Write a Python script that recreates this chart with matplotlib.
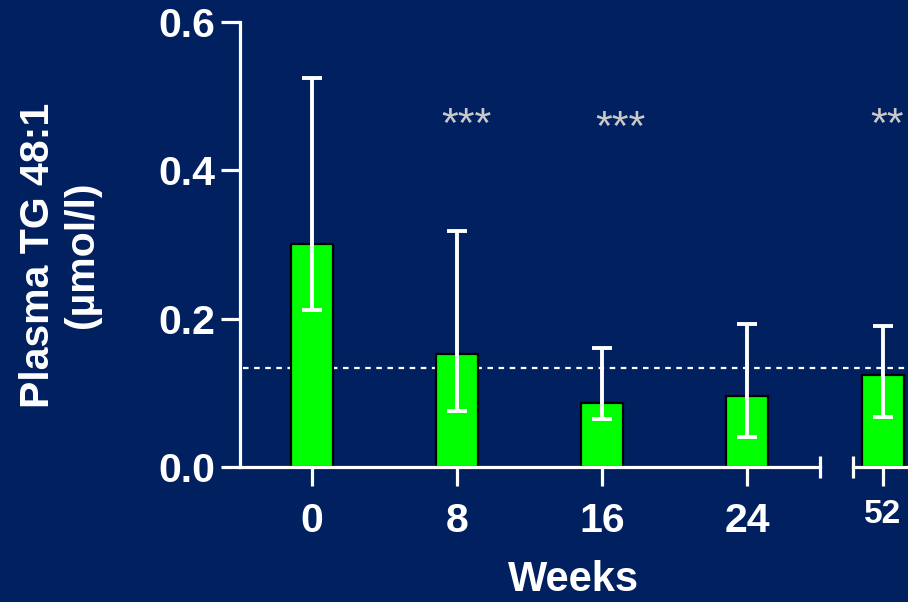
import matplotlib
matplotlib.use("Agg")
import matplotlib.pyplot as plt

plt.rcParams['font.family'] = ['Liberation Sans', 'DejaVu Sans']

# plasma TG 48:1 (umol/l) by study week
weeks = [0, 8, 16, 24, 52]
means = [0.30, 0.152, 0.086, 0.096, 0.124]
err_low = [0.212, 0.076, 0.065, 0.040, 0.067]
err_high = [0.524, 0.318, 0.160, 0.193, 0.190]
baseline_ref = 0.133
stars = ['***', '***', '', '', '**']
star_x = [8.5, 17.0, None, None, 52.2]
star_y = [0.460, 0.456, None, None, 0.460]

bg = '#002060'
fig = plt.figure(figsize=(9.08, 6.02), dpi=100, facecolor=bg)

ax1 = fig.add_axes([240 / 908, 1 - 467 / 602, 580 / 908, 445 / 602])
ax2 = fig.add_axes([853 / 908, 1 - 467 / 602, 55 / 908, 445 / 602])

bar_w = 2.32
for ax in (ax1, ax2):
    ax.patch.set_visible(False)
    ax.set_ylim(0, 0.6)
    for s in ('top', 'right'):
        ax.spines[s].set_visible(False)
    for s in ('left', 'bottom'):
        ax.spines[s].set_color('white')
        ax.spines[s].set_linewidth(2.3)
    ax.tick_params(colors='white', width=2.3, length=14, labelsize=29.5,
                   direction='out')

ax1.set_xlim(-3.97, 28.03)
ax2.set_xlim(52 - 30 / 18.125, 52 + 25 / 18.125)
ax2.spines['left'].set_visible(False)
ax2.tick_params(axis='y', left=False, labelleft=False)

left = [i for i, w in enumerate(weeks) if w <= 24]
right = [i for i, w in enumerate(weeks) if w > 24]

for ax, idx in ((ax1, left), (ax2, right)):
    xs = [weeks[i] for i in idx]
    ys = [means[i] for i in idx]
    lo = [means[i] - err_low[i] for i in idx]
    hi = [err_high[i] - means[i] for i in idx]
    ax.bar(xs, ys, width=bar_w, color='#00ff00', edgecolor='black',
           linewidth=1.6, zorder=2)
    ax.errorbar(xs, ys, yerr=[lo, hi], fmt='none', ecolor='white',
                elinewidth=2.8, capsize=7, capthick=2.8, zorder=3)
    ax.set_xticks(xs)
    ax.set_xticklabels([str(x) for x in xs], fontweight='bold')
    for i in idx:
        if stars[i]:
            ax.text(star_x[i], star_y[i], stars[i], color='#c8c8c8',
                    fontsize=31, ha='center', va='center', clip_on=False)

ax1.set_yticks([0.0, 0.2, 0.4, 0.6])
ax1.set_yticklabels(['0.0', '0.2', '0.4', '0.6'], fontweight='bold')
ax1.tick_params(axis='y', pad=4)
ax1.tick_params(axis='x', pad=11)
ax2.tick_params(axis='x', pad=9, labelsize=24)

# dotted reference line across both panels
ax1.plot([-3.8, 33.0], [baseline_ref, baseline_ref], color='white',
         linestyle=(0, (2.5, 2.5)), linewidth=1.6, clip_on=False, zorder=1)

# axis break marks
ax1.plot([1], [0], transform=ax1.transAxes, marker='|', markersize=16,
         markeredgewidth=2.3, color='white', clip_on=False)
ax2.plot([0], [0], transform=ax2.transAxes, marker='|', markersize=16,
         markeredgewidth=2.3, color='white', clip_on=False)

fig.text(574 / 908, 1 - 580 / 602, 'Weeks', color='white', fontsize=30,
         fontweight='bold', ha='center', va='center')
fig.text(60 / 908, 1 - 255 / 602, 'Plasma TG 48:1\n(µmol/l)', color='white',
         fontsize=29.5, fontweight='bold', ha='center', va='center',
         rotation=90, linespacing=1.2)

fig.savefig('out.png', dpi=100, facecolor=bg)
